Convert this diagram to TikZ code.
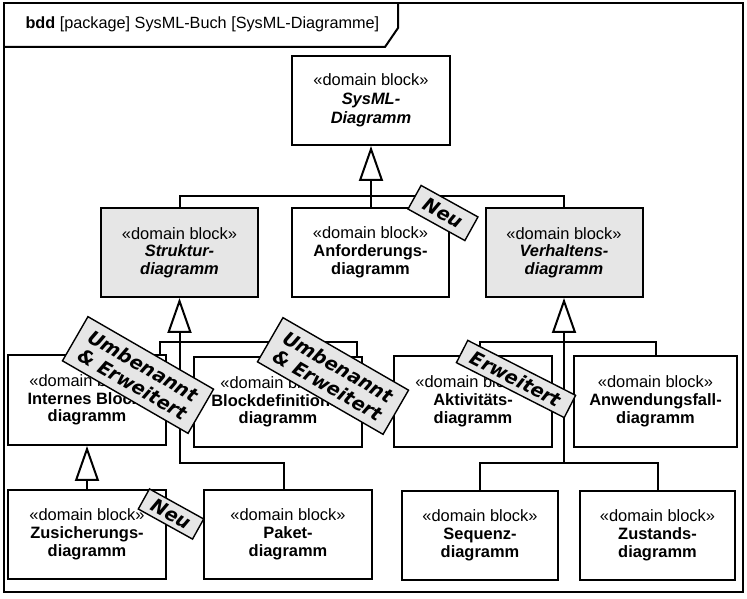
\documentclass[tikz,border=0pt]{standalone}
\usepackage{fontspec}
\setmainfont{Liberation Sans}
\newfontfamily\notefont{DejaVu Sans}
\usetikzlibrary{arrows.meta}
\definecolor{blockgray}{HTML}{E6E6E6}
\begin{document}
\begin{tikzpicture}[line join=miter,
  block/.style={draw,line width=2bp,fill=white,align=center,inner sep=0pt,
    minimum height=89bp,font=\fontsize{16.5}{17.8}\selectfont},
  abstractblock/.style={block,fill=blockgray},
  conn/.style={line width=2bp},
  gen/.style={conn,-{Triangle[open,width=24bp,length=35bp]}},
  notebox/.style={draw,line width=1.4bp,fill=blockgray,align=center,inner sep=0pt,
    font=\notefont\bfseries\itshape\fontsize{19}{21}\selectfont},
]
\useasboundingbox (0bp,0bp) rectangle (747bp,599bp);
%% frame
\draw [line width=2.4bp] (4bp,7bp) rectangle (743bp,596bp);
\draw [line width=2bp] (4bp,552bp) -- (385bp,552bp) -- (398bp,571bp) -- (398bp,596bp);
\node (title) at (22bp,575bp) [anchor=west,font=\fontsize{16.3}{17.5}\selectfont] {\textbf{bdd} [package] SysML-Buch [SysML-Diagramme]};
%% blocks
\node (sysml) at (371bp,498.5bp) [block,minimum width=158bp,font=\fontsize{16.5}{19}\selectfont] {«domain block»\\\textbf{\textit{SysML-}}\\\textbf{\textit{Diagramm}}};
  \node (struktur) at (179.5bp,346.5bp) [abstractblock,minimum width=157bp] {«domain block»\\\textbf{\textit{Struktur-}}\\\textbf{\textit{diagramm}}};
  \node (anforderung) at (370.5bp,346.5bp) [block,minimum width=157bp] {«domain block»\\\textbf{Anforderungs-}\\\textbf{diagramm}};
  \node (verhalten) at (564bp,346.5bp) [abstractblock,minimum width=157bp] {«domain block»\\\textbf{\textit{Verhaltens-}}\\\textbf{\textit{diagramm}}};
  \node (internes) at (87bp,199bp) [block,minimum width=158bp,minimum height=90bp] {«domain block»\\\textbf{Internes Block-}\\\textbf{diagramm}};
  \node (blockdef) at (278bp,197bp) [block,minimum width=168bp,minimum height=90bp] {«domain block»\\\textbf{Blockdefinitions-}\\\textbf{diagramm}};
  \node (aktivitaet) at (473bp,197.5bp) [block,minimum width=158bp,minimum height=91bp] {«domain block»\\\textbf{Aktivitäts-}\\\textbf{diagramm}};
  \node (anwendung) at (655.5bp,197.5bp) [block,minimum width=163bp,minimum height=91bp] {«domain block»\\\textbf{Anwendungsfall-}\\\textbf{diagramm}};
  \node (zusicherung) at (87bp,64.5bp) [block,minimum width=158bp] {«domain block»\\\textbf{Zusicherungs-}\\\textbf{diagramm}};
  \node (paket) at (288bp,64.5bp) [block,minimum width=168bp] {«domain block»\\\textbf{Paket-}\\\textbf{diagramm}};
  \node (sequenz) at (480bp,63.5bp) [block,minimum width=156bp] {«domain block»\\\textbf{Sequenz-}\\\textbf{diagramm}};
  \node (zustand) at (657.5bp,63.5bp) [block,minimum width=155bp] {«domain block»\\\textbf{Zustands-}\\\textbf{diagramm}};
%% generalizations
\coordinate (top bus) at (371bp,403bp);
  \coordinate (struktur bus) at (179.5bp,257bp);
  \coordinate (paket bus) at (179.5bp,136bp);
  \coordinate (verhalten bus) at (564bp,257bp);
  \coordinate (verhalten low) at (564bp,136bp);
  \draw [gen] (top bus) -- (sysml.south);
  \draw [conn] (struktur.north) |- (top bus) -| (verhalten.north);
  \draw [conn] (anforderung.north) -- (anforderung.north |- top bus);
  \draw [gen] (struktur bus) -- (struktur.south);
  \draw [conn] ([xshift=73bp]internes.north) |- (struktur bus) -| ([xshift=79bp]blockdef.north);
  \draw [conn] (struktur bus) -- (paket bus) -| ([xshift=-4bp]paket.north);
  \draw [gen] (zusicherung.north) -- (internes.south);
  \draw [gen] (verhalten bus) -- (verhalten.south);
  \draw [conn] ([xshift=7bp]aktivitaet.north) |- (verhalten bus) -| (anwendung.north);
  \draw [conn] (verhalten bus) -- (verhalten low);
  \draw [conn] (sequenz.north) |- (verhalten low) -| (zustand.north);
%% notes
\node (neu top) at (443bp,386bp) [notebox,rotate=-29,minimum width=65bp,minimum height=27bp] {Neu};
  \node (umbenannt left) at (138bp,224bp) [notebox,rotate=-30,minimum width=145bp,minimum height=51bp] {Umbenannt\\\& Erweitert};
  \node (umbenannt right) at (333bp,223bp) [notebox,rotate=-30,minimum width=145bp,minimum height=51bp] {Umbenannt\\\& Erweitert};
  \node (erweitert) at (516bp,220bp) [notebox,rotate=-27,minimum width=121bp,minimum height=25bp] {Erweitert};
  \node (neu bottom) at (171bp,85bp) [notebox,rotate=-29,minimum width=62bp,minimum height=23bp] {Neu};
%
\end{tikzpicture}
\end{document}
